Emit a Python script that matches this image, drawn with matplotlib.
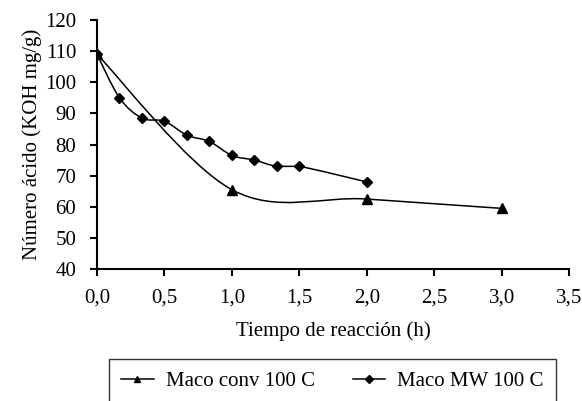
import numpy as np
import matplotlib
matplotlib.use('Agg')
import matplotlib.pyplot as plt
from matplotlib.path import Path
from matplotlib.patches import PathPatch
from matplotlib.lines import Line2D

plt.rcParams['font.family'] = ['Liberation Serif', 'DejaVu Serif']

# data
t_conv = [0.0, 1.0, 2.0, 3.0]
acid_conv = [109, 65.5, 62.5, 59.5]

t_mw = [0.0, 1/6, 2/6, 3/6, 4/6, 5/6, 1.0, 7/6, 8/6, 1.5, 2.0]
acid_mw = [109, 95, 88.5, 87.5, 83, 81, 76.5, 75, 73, 73, 68]

xticks = [0.0, 0.5, 1.0, 1.5, 2.0, 2.5, 3.0, 3.5]
yticks = [40, 50, 60, 70, 80, 90, 100, 110, 120]


def smooth_path(x, y):
    # excel style smoothed line: cubic bezier through the points
    x = np.asarray(x, float)
    y = np.asarray(y, float)
    n = len(x)
    verts = [(x[0], y[0])]
    codes = [Path.MOVETO]
    for i in range(n - 1):
        p0 = np.array([x[max(i - 1, 0)], y[max(i - 1, 0)]])
        p1 = np.array([x[i], y[i]])
        p2 = np.array([x[i + 1], y[i + 1]])
        p3 = np.array([x[min(i + 2, n - 1)], y[min(i + 2, n - 1)]])
        c1 = p1 + (p2 - p0) / 6.0
        c2 = p2 - (p3 - p1) / 6.0
        # keep flat stretches flat
        if p1[1] == p2[1]:
            c1[1] = p1[1]
            c2[1] = p2[1]
        verts += [tuple(c1), tuple(c2), tuple(p2)]
        codes += [Path.CURVE4] * 3
    return Path(verts, codes)


fig = plt.figure(figsize=(5.82, 4.01), dpi=100)
ax = fig.add_axes([0.1667, 0.329, 0.811, 0.621])

ax.add_patch(PathPatch(smooth_path(t_conv, acid_conv), fill=False, ec='black', lw=1.1))
ax.add_patch(PathPatch(smooth_path(t_mw, acid_mw), fill=False, ec='black', lw=1.1))
ax.plot(t_conv, acid_conv, '^', color='black', markersize=6.5, ls='none')
ax.plot(t_mw, acid_mw, 'D', color='black', markersize=5.5, ls='none')

ax.set_xlim(0, 3.5)
ax.set_ylim(40, 120)
ax.set_xticks(xticks)
ax.set_xticklabels([('%.1f' % v).replace('.', ',') for v in xticks])
ax.set_yticks(yticks)
ax.tick_params(direction='out', length=5, width=1.5, labelsize=15, color='black')
ax.tick_params(axis='y', pad=10)
ax.tick_params(axis='x', pad=9)
for s in ['top', 'right']:
    ax.spines[s].set_visible(False)
for s in ['left', 'bottom']:
    ax.spines[s].set_linewidth(1.5)

ax.set_xlabel('Tiempo de reacción (h)', fontsize=15, labelpad=10)
ax.set_ylabel('Número ácido (KOH mg/g)', fontsize=15, labelpad=2)

handles = [Line2D([], [], color='black', marker='^', markersize=5, lw=1.1),
           Line2D([], [], color='black', marker='D', markersize=4, lw=1.1)]
leg = fig.legend(handles, ['Maco conv 100 C', 'Maco MW 100 C'], loc='upper center',
                 bbox_to_anchor=(0.5713, 0.105), ncol=2, fontsize=15, frameon=True,
                 fancybox=False, edgecolor='black', handlelength=1.55, handletextpad=0.6,
                 columnspacing=1.8, borderpad=0.6, borderaxespad=0)
leg.get_frame().set_linewidth(1.0)

fig.savefig('out.png', dpi=100)
